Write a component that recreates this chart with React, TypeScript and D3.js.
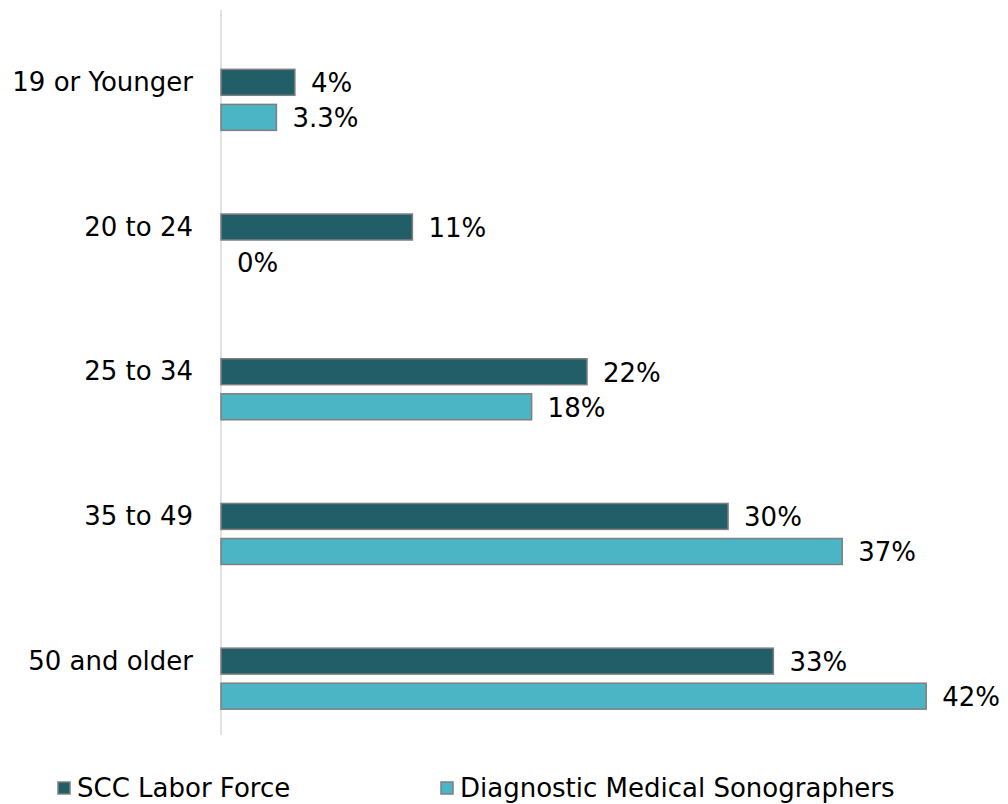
import React from "react";
import * as d3 from "d3";

const categories = ["19 or Younger", "20 to 24", "25 to 34", "35 to 49", "50 and older"];
const seriesNames = ["SCC Labor Force", "Diagnostic Medical Sonographers"];
const sccValues = [4.4, 11.4, 21.8, 30.2, 32.9];
const dmsValues = [3.3, 0, 18.5, 37, 42];
const sccLabels = ["4%", "11%", "22%", "30%", "33%"];
const dmsLabels = ["3.3%", "0%", "18%", "37%", "42%"];

const colors = ["#225E68", "#4BB5C5"];
const FONT = "'DejaVu Sans', sans-serif";

export default function App() {
  const W = 1008, H = 804;
  const x0 = 221;
  const x = d3.scaleLinear().domain([0, 45]).range([x0, x0 + 45 * 16.79]);
  const y = d3.scaleBand<string>().domain(categories).range([27.5, 751]).paddingInner(0).paddingOuter(0);
  const inner = d3.scaleBand<number>().domain([0, 1]).range([-30.5, 30.5]).paddingInner(0.26).paddingOuter(0);
  const series = [sccValues, dmsValues];
  const labels = [sccLabels, dmsLabels];

  return (
    <svg width={W} height={H} style={{ position: "absolute", left: 0, top: 0, background: "#fff" }}>
      <line x1={x0} x2={x0} y1={10} y2={735} stroke="#D9D9D9" strokeWidth={1.5} />
      {categories.map((c, i) => {
        const cy = (y(c) as number) + y.bandwidth() / 2;
        return (
          <g key={c}>
            <text x={193} y={cy - 18} textAnchor="end" dominantBaseline="central" fontFamily={FONT} fontSize={26} fill="#000">
              {c}
            </text>
            {series.map((vals, s) => {
              const by = cy + (inner(s) as number);
              const bh = inner.bandwidth();
              const v = vals[i];
              return (
                <g key={s}>
                  {v > 0 && (
                    <rect x={x(0)} y={by} width={x(v) - x(0)} height={bh} fill={colors[s]} stroke="#7F7F7F" strokeWidth={1.5} />
                  )}
                  <text x={x(v) + 16} y={by + bh / 2 + 1} dominantBaseline="central" fontFamily={FONT} fontSize={26} fill="#000">
                    {labels[s][i]}
                  </text>
                </g>
              );
            })}
          </g>
        );
      })}
      {seriesNames.map((n, s) => {
        const lx = [58, 441][s];
        return (
          <g key={n}>
            <rect x={lx} y={782} width={12} height={12} fill={colors[s]} stroke="#7F7F7F" strokeWidth={1.5} />
            <text x={lx + 19} y={788} dominantBaseline="central" fontFamily={FONT} fontSize={26} fill="#000">
              {n}
            </text>
          </g>
        );
      })}
    </svg>
  );
}
